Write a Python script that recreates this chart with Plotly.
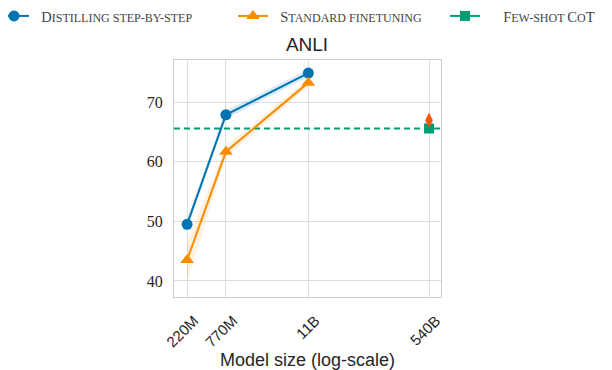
import plotly.graph_objects as go

# ---- data ----
model_sizes = [220e6, 770e6, 11e9]
cot_size = [540e9]
tick_vals = [220e6, 770e6, 11e9, 540e9]
tick_text = ["220M", "770M", "11B", "540B"]

distill = [49.5, 67.9, 74.9]
distill_lo = [48.8, 67.2, 74.3]
distill_hi = [50.3, 68.6, 75.5]

standard = [43.5, 61.7, 73.3]
standard_lo = [40.0, 60.8, 72.6]
standard_hi = [46.5, 62.6, 74.0]

cot_value = [65.6]
palm_standard = [67.0]

y_ticks = [40, 50, 60, 70]

BLUE = "#0173b2"
ORANGE = "#fb8b00"
GREEN = "#029e73"
RED = "#f5580c"

SMALL = 12

def sc(first, rest):
    return first + "<span style='font-size:%dpx'>" % SMALL + rest + "</span>"

PAD = "&nbsp;" * 2
PAD3 = "&nbsp;" * 5

fig = go.Figure()

# bands
fig.add_trace(go.Scatter(x=model_sizes + model_sizes[::-1], y=distill_hi + distill_lo[::-1],
                         fill="toself", fillcolor="rgba(1,115,178,0.15)", line=dict(width=0),
                         mode="lines", hoverinfo="skip", showlegend=False))
fig.add_trace(go.Scatter(x=model_sizes + model_sizes[::-1], y=standard_hi + standard_lo[::-1],
                         fill="toself", fillcolor="rgba(251,139,0,0.12)", line=dict(width=0),
                         mode="lines", hoverinfo="skip", showlegend=False))

# few-shot CoT dashed line across
fig.add_trace(go.Scatter(x=[10**8.159, 10**11.9], y=cot_value * 2, mode="lines",
                         line=dict(color=GREEN, width=2, dash="6px,4px"),
                         showlegend=False, hoverinfo="skip"))

fig.add_trace(go.Scatter(x=model_sizes, y=distill, mode="lines+markers",
                         name=PAD + sc("D", "ISTILLING STEP-BY-STEP"), legend="legend",
                         line=dict(color=BLUE, width=2),
                         marker=dict(symbol="circle", size=11, color=BLUE)))
fig.add_trace(go.Scatter(x=model_sizes, y=standard, mode="lines+markers",
                         name=PAD + sc("S", "TANDARD FINETUNING"), legend="legend2",
                         line=dict(color=ORANGE, width=2),
                         marker=dict(symbol="triangle-up", size=12, color=ORANGE)))
fig.add_trace(go.Scatter(x=cot_size, y=cot_value, mode="lines+markers",
                         name=PAD3 + sc("F", "EW-SHOT ") + sc("C", "O") + "T", legend="legend3",
                         line=dict(color=GREEN, width=2),
                         marker=dict(symbol="square", size=10, color=GREEN)))
fig.add_trace(go.Scatter(x=cot_size, y=palm_standard, mode="markers",
                         marker=dict(symbol="diamond-tall", size=11, color=RED),
                         showlegend=False))

ML, MR, MT, MB = 166, 179, 52, 81
plot_w = 612 - ML - MR
plot_h = 370 - MT - MB

def leg(marker_px):
    return dict(orientation="h", xref="paper", yref="paper",
                x=(marker_px - 26 - ML) / plot_w, y=1 + (MT + 8) / plot_h,
                xanchor="left", yanchor="top",
                font=dict(family="Liberation Serif", size=14.5, color="#444444"),
                itemwidth=30, bgcolor="rgba(0,0,0,0)")

fig.update_layout(
    width=612, height=370,
    margin=dict(l=ML, r=MR, t=MT, b=MB, autoexpand=False),
    paper_bgcolor="white", plot_bgcolor="white",
    title=dict(text="ANLI", x=0.4886, xanchor="center", xref="container",
               y=1 - 36 / 370, yanchor="middle", yref="container",
               font=dict(family="Liberation Sans", size=19, color="#262626")),
    legend=leg(12), legend2=leg(251), legend3=leg(463),
    showlegend=True,
)

fig.update_xaxes(type="log", range=[8.159, 11.9], tickvals=tick_vals, ticktext=tick_text,
                 tickangle=-45, showgrid=True, gridcolor="#dcdcdc", gridwidth=1,
                 showline=True, linecolor="#cccccc", linewidth=1, mirror=True,
                 ticks="", zeroline=False, ticklabelshift=7, ticklabelstandoff=8,
                 automargin=False,
                 tickfont=dict(family="Liberation Sans", size=15, color="#262626"),
                 title=dict(text="Model size (log-scale)", standoff=0,
                            font=dict(family="Liberation Sans", size=18, color="#262626")))
fig.update_yaxes(range=[37.3, 77.1], tickvals=y_ticks, showgrid=True, gridcolor="#dcdcdc",
                 gridwidth=1, showline=True, linecolor="#cccccc", linewidth=1, mirror=True,
                 ticks="", zeroline=False, ticklabelstandoff=7, automargin=False,
                 tickfont=dict(family="Liberation Serif", size=16, color="#262626"))

fig.write_html("out.html")
